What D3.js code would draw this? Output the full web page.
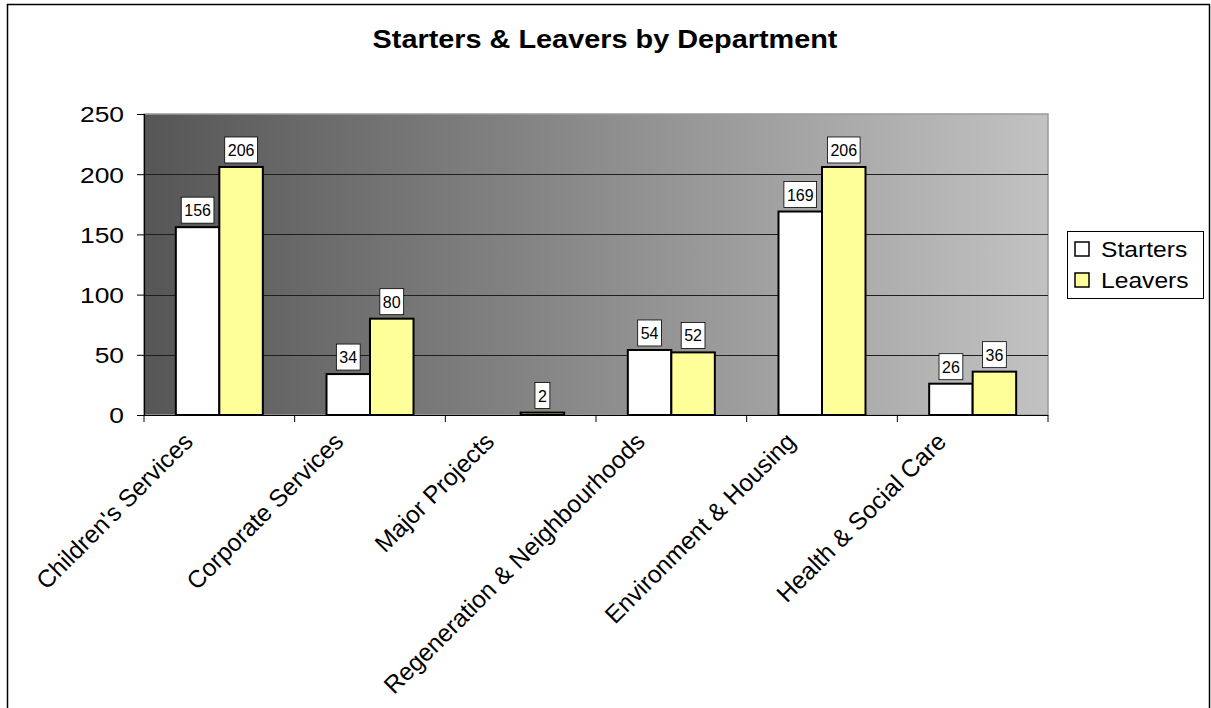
<!DOCTYPE html>
<html><head><meta charset="utf-8">
<script src="https://cdn.jsdelivr.net/npm/d3@7"></script>
<style>
body{margin:0;background:#fff}
svg{display:block}
text{font-family:"Liberation Sans",Arial,Helvetica,sans-serif;fill:#000}
</style>
</head><body>
<svg id="c" width="1211" height="708"></svg>
<script>
const categories = ["Children's Services","Corporate Services","Major Projects","Regeneration & Neighbourhoods","Environment & Housing","Health & Social Care"];
const seriesNames = ["Starters","Leavers"];
const starters = [156,34,null,54,169,26];
const leavers = [206,80,2,52,206,36];
const seriesColors = ["#ffffff","#ffff99"];
const yTicks = [0,50,100,150,200,250];
const titleText = "Starters & Leavers by Department";

const svg = d3.select("#c");
const plot = {left:144, right:1048, top:114, bottom:415};

// gradient
const defs = svg.append("defs");
const grad = defs.append("linearGradient").attr("id","bg").attr("x1","0%").attr("x2","100%").attr("y1","0%").attr("y2","0%");
grad.append("stop").attr("offset","0%").attr("stop-color","#565656");
grad.append("stop").attr("offset","100%").attr("stop-color","#c2c2c2");

// outer border
svg.append("rect").attr("x",7.5).attr("y",4.5).attr("width",1202).attr("height",730)
  .attr("fill","#fff").attr("stroke","#000").attr("stroke-width",1.5);

const x = d3.scaleBand().domain(categories).range([plot.left,plot.right]).paddingInner(0).paddingOuter(0);
const x1 = d3.scaleBand().domain(seriesNames).range([0,x.bandwidth()]).paddingInner(0).paddingOuter(0.732);
const y = d3.scaleLinear().domain([0,250]).range([plot.bottom,plot.top]);

// plot area
svg.append("rect").attr("x",plot.left).attr("y",plot.top)
  .attr("width",plot.right-plot.left).attr("height",plot.bottom-plot.top)
  .attr("fill","url(#bg)").attr("stroke","#9a9a9a").attr("stroke-width",1.5);

// gridlines
svg.append("g").selectAll("line").data(yTicks.filter(d=>d>0 && d<250)).join("line")
  .attr("x1",plot.left).attr("x2",plot.right)
  .attr("y1",d=>Math.round(y(d))+0.5).attr("y2",d=>Math.round(y(d))+0.5)
  .attr("stroke","#1e1e1e").attr("stroke-width",1);

// bars
const data = categories.map((c,i)=>({c, vals:[starters[i],leavers[i]]}));
const groups = svg.append("g").selectAll("g").data(data).join("g")
  .attr("transform",d=>`translate(${x(d.c)},0)`);
groups.selectAll("rect").data(d=>d.vals.map((v,j)=>({v,s:seriesNames[j],j})).filter(e=>e.v!=null)).join("rect")
  .attr("x",e=>x1(e.s)).attr("width",x1.bandwidth())
  .attr("y",e=>y(e.v)).attr("height",e=>y(0)-y(e.v))
  .attr("fill",e=>seriesColors[e.j]).attr("stroke","#000").attr("stroke-width",2);

// data labels
const lab = groups.selectAll("g.lab").data(d=>d.vals.map((v,j)=>({v,s:seriesNames[j],j})).filter(e=>e.v!=null)).join("g")
  .attr("class","lab")
  .attr("transform",e=>`translate(${x1(e.s)+x1.bandwidth()/2},${y(e.v)-4})`);
lab.each(function(e){
  const g = d3.select(this);
  const t = g.append("text").attr("text-anchor","middle").attr("font-size",16).attr("y",-7).text(e.v);
  const w = t.node().getComputedTextLength();
  g.insert("rect","text").attr("x",-w/2-3).attr("y",-26).attr("width",w+6).attr("height",26)
    .attr("fill","#fff").attr("stroke","#000").attr("stroke-width",0.8);
});

// y axis
const yAxis = svg.append("g").attr("transform",`translate(${plot.left},0)`)
  .call(d3.axisLeft(y).tickValues(yTicks).tickSize(7).tickPadding(13).tickFormat(d3.format("d")));
yAxis.select(".domain").attr("stroke","#000").attr("stroke-width",1.2);
yAxis.selectAll(".tick line").attr("stroke","#000");
yAxis.selectAll(".tick text").attr("font-size",22).attr("font-family",'"Liberation Sans",Arial,sans-serif').attr("fill","#000")
  .attr("dy","0.36em").attr("x",0).attr("transform","translate(-20,0) scale(1.2,1)");

// x axis line and ticks at category boundaries
const xa = svg.append("g");
xa.append("line").attr("x1",plot.left).attr("x2",plot.right).attr("y1",plot.bottom+0.5).attr("y2",plot.bottom+0.5).attr("stroke","#000").attr("stroke-width",1.2);
const bounds = categories.map(c=>x(c)).concat([x.range()[1]]);
xa.selectAll("line.t").data(bounds).join("line").attr("class","t")
  .attr("x1",d=>d).attr("x2",d=>d).attr("y1",plot.bottom).attr("y2",plot.bottom+7).attr("stroke","#000");
xa.selectAll("text").data(categories).join("text")
  .attr("text-anchor","end").attr("font-size",24.5)
  .attr("transform",c=>`translate(${x(c)+x.bandwidth()/2-25},${plot.bottom+28}) rotate(-45)`)
  .text(c=>c);

// title
svg.append("text").attr("transform","translate(605,48) scale(1.11,1)").attr("text-anchor","middle")
  .attr("font-size",26).attr("font-weight","bold").text(titleText);

// legend
const lg = svg.append("g").attr("transform","translate(1067,231)");
lg.append("rect").attr("x",0.5).attr("y",0.5).attr("width",136).attr("height",67).attr("fill","#fff").attr("stroke","#000").attr("stroke-width",1);
const li = lg.selectAll("g").data(seriesNames).join("g").attr("transform",(d,i)=>`translate(8,${11+i*31})`);
li.append("rect").attr("width",14).attr("height",14).attr("fill",(d,i)=>seriesColors[i]).attr("stroke","#000").attr("stroke-width",1.5);
li.append("text").attr("transform","translate(26,15) scale(1.12,1)").attr("font-size",22).text(d=>d);
</script>
</body></html>
